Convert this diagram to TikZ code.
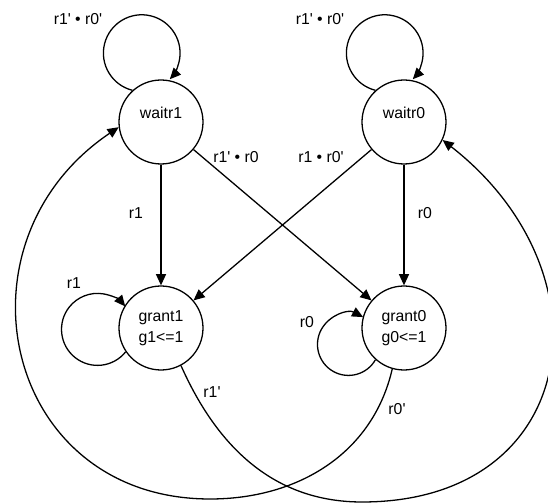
\documentclass[tikz,border=0pt]{standalone}
\usepackage{fontspec}
\setmainfont{Liberation Sans}
\usetikzlibrary{arrows.meta}

\begin{document}
\begin{tikzpicture}[line width=1.1pt, >={Triangle[length=9.5pt,width=8.5pt]},
    state/.style={draw, circle, minimum size=2.52cm, inner sep=0pt, align=center,
      font=\fontsize{13.5}{18}\selectfont},
    lbl/.style={font=\fontsize{13.5}{15}\selectfont}]
      \useasboundingbox (0,0) rectangle (16.44,15.12);

      \node[state] (waitr1) at (4.83,11.46) {\raisebox{3pt}[0pt][0pt]{waitr1}};
      \node[state] (waitr0) at (12.12,11.46) {\raisebox{3pt}[0pt][0pt]{waitr0}};
      \node[state] (grant1) at (4.83,5.28) {grant1\\g1<=1};
      \node[state] (grant0) at (12.12,5.28) {grant0\\g0<=1};

      \coordinate (bot1) at (10.86,0.06);
      \coordinate (bot0) at (6.30,0.15);

      % self loops
      \draw[->] (waitr1.132) arc[start angle=256, end angle=-43, radius=1.15];
      \draw[->] (waitr0.132) arc[start angle=256, end angle=-43, radius=1.15];
      \draw[->] (grant1.214) arc[start angle=-38.6, end angle=-320.4, radius=1.08];
      \draw[->] (grant0.228) arc[start angle=-29.5, end angle=-298.2, radius=0.93];

      \draw[->] (waitr1) -- (grant1);
      \draw[->] (waitr1) -- (grant0);
      \draw[->] (waitr0) -- (grant1);
      \draw[->] (waitr0) -- (grant0);

      % back to wait states
      \draw[->] (grant1.-62) to[out=-66, in=180] (bot1)
        to[out=0, in=-38, looseness=1.5] (waitr0.-25);
      \draw[->] (grant0.-106) to[out=-103, in=0] (bot0)
        to[out=180, in=-146, looseness=1.38] (waitr1.187);

      \node[lbl] (l1) at (2.34,14.55) {r1\textquotesingle{} \textbullet{} r0\textquotesingle};
      \node[lbl] (l2) at (9.60,14.55) {r1\textquotesingle{} \textbullet{} r0\textquotesingle};
      \node[lbl] (l3) at (4.08,8.73) {r1};
      \node[lbl] (l4) at (7.08,10.41) {r1\textquotesingle{} \textbullet{} r0};
      \node[lbl] (l5) at (9.63,10.41) {r1 \textbullet{} r0\textquotesingle};
      \node[lbl] (l6) at (12.75,8.73) {r0};
      \node[lbl] (l7) at (2.22,6.63) {r1};
      \node[lbl] (l8) at (9.21,5.46) {r0};
      \node[lbl] (l9) at (6.36,3.36) {r1\textquotesingle};
      \node[lbl] (l10) at (11.91,2.85) {r0\textquotesingle};
    \end{tikzpicture}
\end{document}
